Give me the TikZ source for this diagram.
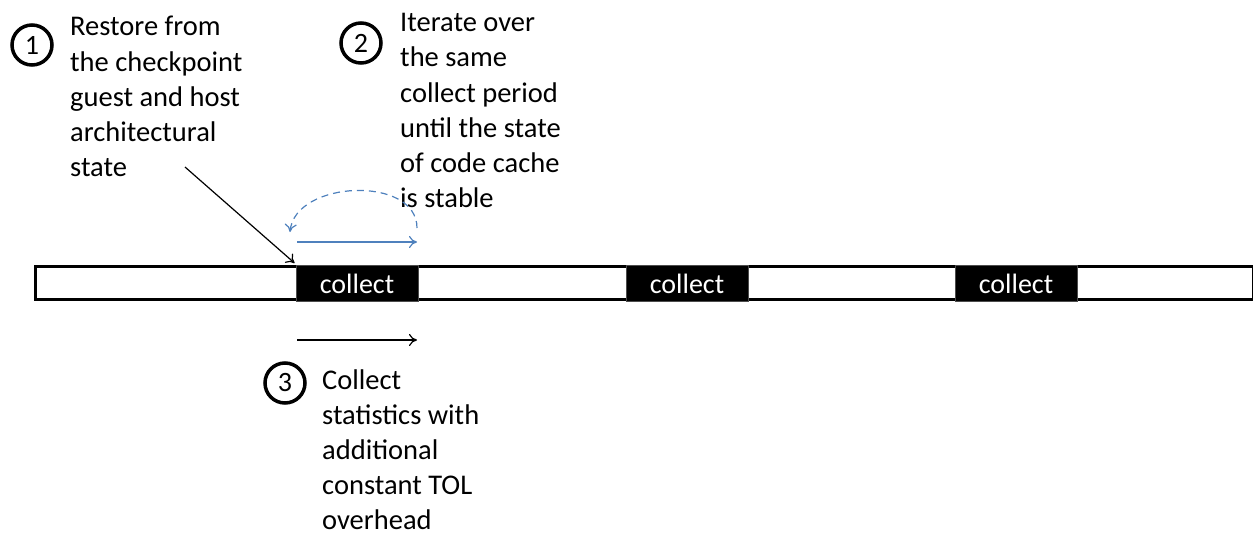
\documentclass[tikz,border=0pt]{standalone}
\usepackage{fontspec}
\setmainfont{Carlito}
\usetikzlibrary{arrows.meta}
\definecolor{offblue}{RGB}{79,129,189}
\begin{document}
\begin{tikzpicture}[x=1pt,y=-1pt,
  txt/.style={anchor=north west,inner sep=0pt,align=left,font=\fontsize{28.5}{35.3}\selectfont},
  txtb/.style={anchor=north west,inner sep=0pt,align=left,font=\fontsize{28.5}{35}\selectfont},
  num/.style={circle,draw,line width=3.5pt,minimum size=40pt,inner sep=0pt,font=\fontsize{28}{30}\selectfont},
  collectbox/.style={fill=black,draw=black!70,line width=0.8pt,minimum width=122pt,minimum height=36pt,inner sep=0pt,text=white,font=\fontsize{28}{30}\selectfont},
  arr/.style={-{To[length=8pt,width=12pt]},line width=1.2pt}
]
\useasboundingbox (0,0) rectangle (1253,536);
% timeline bar
\node[draw,line width=2.8pt,minimum width=1218pt,minimum height=33pt,inner sep=0pt,anchor=north west] (bar) at (34,265) {};
\node[collectbox] (c1) at (357,283.5) {collect};
\node[collectbox] (c2) at (687,283.5) {collect};
\node[collectbox] (c3) at (1016,283.5) {collect};
% numbered circles
\node[num] (n1) at (32,45) {1};
\node[num] (n2) at (361,43) {2};
\node[num] (n3) at (285,383) {3};
% texts
\node[txt] (t1) at (70,16) {Restore from\\the checkpoint\\guest and host\\architectural\\state};
\node[txt] (t2) at (400,13) {Iterate over\\the same\\collect period\\until the state\\of code cache\\is stable};
\node[txtb] (t3) at (322,370) {Collect\\statistics with\\additional\\constant TOL\\overhead};
% connectors
\coordinate (s1) at (185,167);
\coordinate (e1) at (c1.north west);
\draw[arr] (s1) -- ([xshift=-1pt,yshift=2pt]e1);
\coordinate (b1) at (297,242);
\coordinate (b2) at (417,242);
\draw[arr,offblue] (b1) -- (b2);
\coordinate (d1) at (417,228);
\coordinate (d2) at (290,232);
\draw[arr,offblue,dash pattern=on 7pt off 5pt] (d1) .. controls (417,175) and (295,180) .. (d2);
\coordinate (k1) at (297,340);
\coordinate (k2) at (417,340);
\draw[arr] (k1) -- (k2);
\end{tikzpicture}
\end{document}
